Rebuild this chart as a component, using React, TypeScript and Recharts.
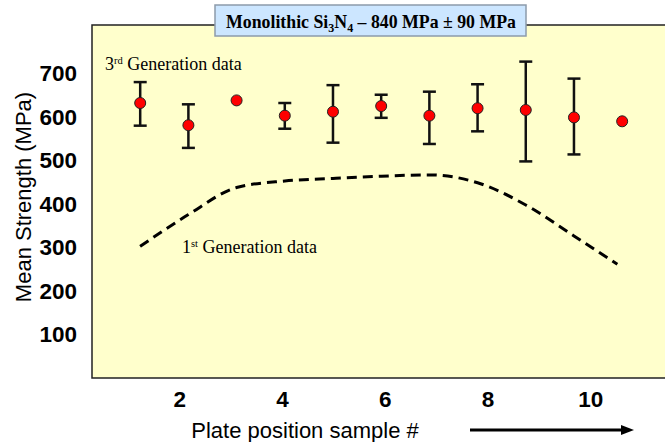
import React from "react"
import {
  ComposedChart,
  Scatter,
  Line,
  ErrorBar,
  XAxis,
  YAxis,
  ReferenceArea,
} from "recharts"

// 3rd generation: mean strength per plate position, with min/max bars
const sampleNo = [1, 2, 3, 4, 5, 6, 7, 8, 9, 10, 11]
const meanStrength = [631, 580, 637, 602, 611, 624, 602, 619, 615, 598, 589]
const upperStrength = [679, 628, null, 631, 672, 650, 657, 674, 726, 687, null]
const lowerStrength = [579, 528, null, 572, 540, 597, 537, 566, 497, 513, null]

// 1st generation trend (dashed curve)
const firstGenX = [1, 2, 3, 4, 5, 6, 7, 8, 9, 10, 10.9]
const firstGenY = [302, 375, 437, 452, 458, 463, 466, 448, 397, 326, 261]

const yTicks = [100, 200, 300, 400, 500, 600, 700]
const xTickLabels = [2, 4, 6, 8, 10]

const thirdGen = sampleNo.map((x, i) => {
  const hi = upperStrength[i]
  const lo = lowerStrength[i]
  return {
    x,
    y: meanStrength[i],
    err: hi == null || lo == null ? null : [meanStrength[i] - lo, hi - meanStrength[i]],
  }
})

const firstGen = firstGenX.map((x, i) => ({ x, y: firstGenY[i] }))

// the printed tick labels sit on their own scale, so they get an axis of their own
const tickAnchors = xTickLabels.map((x) => ({ x, y: 0 }))

const tickFont = {
  fontFamily: "'Liberation Sans', Arial, sans-serif",
  fontWeight: 700,
  fontSize: 22.5,
  fill: "#000",
}

const serif = "'Liberation Serif', 'Times New Roman', 'DejaVu Serif', serif"
const sans = "'Liberation Sans', Arial, sans-serif"

const Dot = (p: any) => (
  <circle cx={p.cx} cy={p.cy} r={5.5} fill="#ff0000" stroke="#222" strokeWidth={1} />
)

const Nothing = () => <g />

export default function App() {
  return (
    <div style={{ position: "absolute", left: 0, top: 0, width: 665, height: 442, overflow: "hidden", background: "#fff" }}>
      <ComposedChart width={680} height={442} margin={{ top: 25, right: 0, left: 32, bottom: 34 }}>
        <XAxis xAxisId="data" type="number" dataKey="x" domain={[0, 12.2]} allowDataOverflow hide height={0} />
        <XAxis
          xAxisId="lbl"
          type="number"
          dataKey="x"
          domain={[0.29, 11.74]}
          allowDataOverflow
          ticks={xTickLabels}
          height={30}
          axisLine={false}
          tickLine={false}
          tickSize={0}
          tickMargin={13}
          tick={tickFont}
        />
        <YAxis
          type="number"
          domain={[0, 810]}
          allowDataOverflow
          ticks={yTicks}
          width={60}
          axisLine={false}
          tickLine={false}
          tickSize={0}
          tickMargin={15}
          tick={tickFont}
        />
        <ReferenceArea
          xAxisId="data"
          x1={0}
          x2={12.2}
          y1={0}
          y2={810}
          fill="#ffffcc"
          fillOpacity={1}
          stroke="#222"
          strokeWidth={1.5}
          ifOverflow="visible"
        />
        <Scatter xAxisId="lbl" data={tickAnchors} dataKey="y" shape={Nothing} isAnimationActive={false} />
        <Line
          xAxisId="data"
          data={firstGen}
          dataKey="y"
          type="monotone"
          stroke="#000"
          strokeWidth={3}
          strokeDasharray="10 6"
          dot={false}
          activeDot={false}
          isAnimationActive={false}
        />
        <Scatter xAxisId="data" data={thirdGen} dataKey="y" shape={Dot} isAnimationActive={false}>
          <ErrorBar dataKey="err" direction="y" width={6.5} stroke="#111" strokeWidth={2.5} isAnimationActive={false} />
        </Scatter>
      </ComposedChart>

      <svg width={665} height={442} style={{ position: "absolute", left: 0, top: 0, pointerEvents: "none" }}>
        <rect x={215} y={5} width={311} height={31} fill="#cce6ff" stroke="#8c9bab" strokeWidth={1.5} />
        <text x={371} y={28} textAnchor="middle" fontFamily={serif} fontWeight={700} fontSize={17.8} fill="#000">
          Monolithic Si
          <tspan fontSize={12} dy={4}>3</tspan>
          <tspan dy={-4}>N</tspan>
          <tspan fontSize={12} dy={4}>4</tspan>
          <tspan dy={-4}> – 840 MPa ± 90 MPa</tspan>
        </text>

        <text x={105} y={70} fontFamily={serif} fontSize={18} fill="#000">
          3<tspan fontSize={10.5} dy={-6}>rd</tspan>
          <tspan dy={6}> Generation data</tspan>
        </text>
        <text x={182} y={253} fontFamily={serif} fontSize={18} fill="#000">
          1<tspan fontSize={10.5} dy={-6}>st</tspan>
          <tspan dy={6}> Generation data</tspan>
        </text>

        <text
          x={23}
          y={197}
          transform="rotate(-90, 23, 197)"
          textAnchor="middle"
          dominantBaseline="central"
          fontFamily={sans}
          fontSize={22}
          fill="#000"
        >
          Mean Strength (MPa)
        </text>
        <text x={305} y={438} textAnchor="middle" fontFamily={sans} fontSize={22} fill="#000">
          Plate position sample #
        </text>

        <line x1={470} y1={430} x2={624} y2={430} stroke="#000" strokeWidth={3} />
        <polygon points="634,430 621,425 621,435" fill="#000" />
      </svg>
    </div>
  )
}
